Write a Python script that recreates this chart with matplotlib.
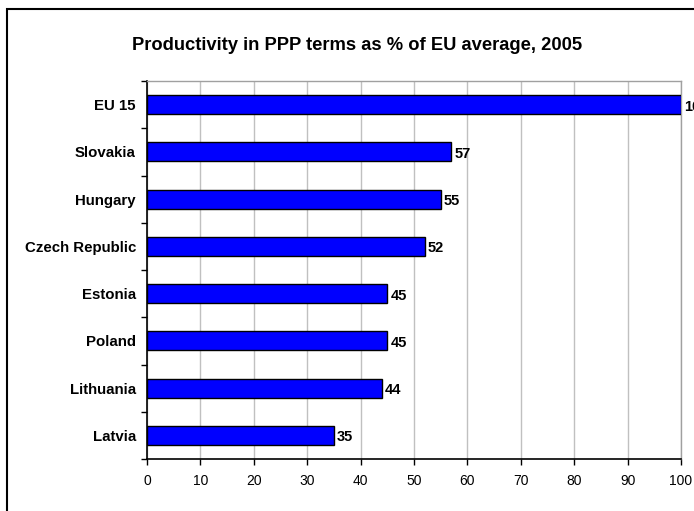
import matplotlib
matplotlib.use("Agg")
import matplotlib.pyplot as plt
from matplotlib.patches import Rectangle

plt.rcParams['font.family'] = ['Liberation Sans', 'DejaVu Sans']

categories = ["EU 15", "Slovakia", "Hungary", "Czech Republic", "Estonia", "Poland", "Lithuania", "Latvia"]
values = [100, 57, 55, 52, 45, 45, 44, 35]
xticks = [0, 10, 20, 30, 40, 50, 60, 70, 80, 90, 100]
title = "Productivity in PPP terms as % of EU average, 2005"

fig = plt.figure(figsize=(6.94, 5.11), dpi=100)
ax = fig.add_axes([147/694, 52/511, 534/694, 378/511])

n = len(categories)
ypos = list(range(n))
ax.barh(ypos, values, height=0.4, color="#0000FF", edgecolor="black", linewidth=1.0, zorder=3)
for y, v in zip(ypos, values):
    ax.text(v + 0.6, y + 0.04, f"{v}", va="center", ha="left", fontsize=10.5,
            fontweight="bold", clip_on=False, zorder=4)

ax.set_xlim(0, 100)
ax.set_ylim(n - 0.5, -0.5)
ax.set_xticks(xticks)
ax.set_xticklabels([str(t) for t in xticks], fontsize=10)
ax.set_yticks(ypos)
ax.set_yticklabels(categories, fontsize=10.8, fontweight="bold")
ax.tick_params(axis="y", which="major", length=0, pad=8)
ax.set_yticks([i - 0.5 for i in range(n + 1)], minor=True)
ax.tick_params(axis="y", which="minor", length=4, width=1, direction="out")
ax.tick_params(axis="x", length=4, width=1, direction="out", pad=7)

ax.grid(axis="x", color="#c0c0c0", linewidth=1, zorder=0)
ax.set_axisbelow(True)
for s in ["top", "right"]:
    ax.spines[s].set_color("#a0a0a0")
    ax.spines[s].set_linewidth(1)
for s in ["left", "bottom"]:
    ax.spines[s].set_color("black")
    ax.spines[s].set_linewidth(1.2)

fig.text(357/694, 1 - 46/511, title, ha="center", va="center", fontsize=13.2, fontweight="bold")

border = Rectangle((7/694, -0.1), 1.2, 1 - 9/511 + 0.1, transform=fig.transFigure,
                   fill=False, edgecolor="black", linewidth=1.5, clip_on=False)
fig.patches.append(border)

fig.savefig("out.png", dpi=100)
